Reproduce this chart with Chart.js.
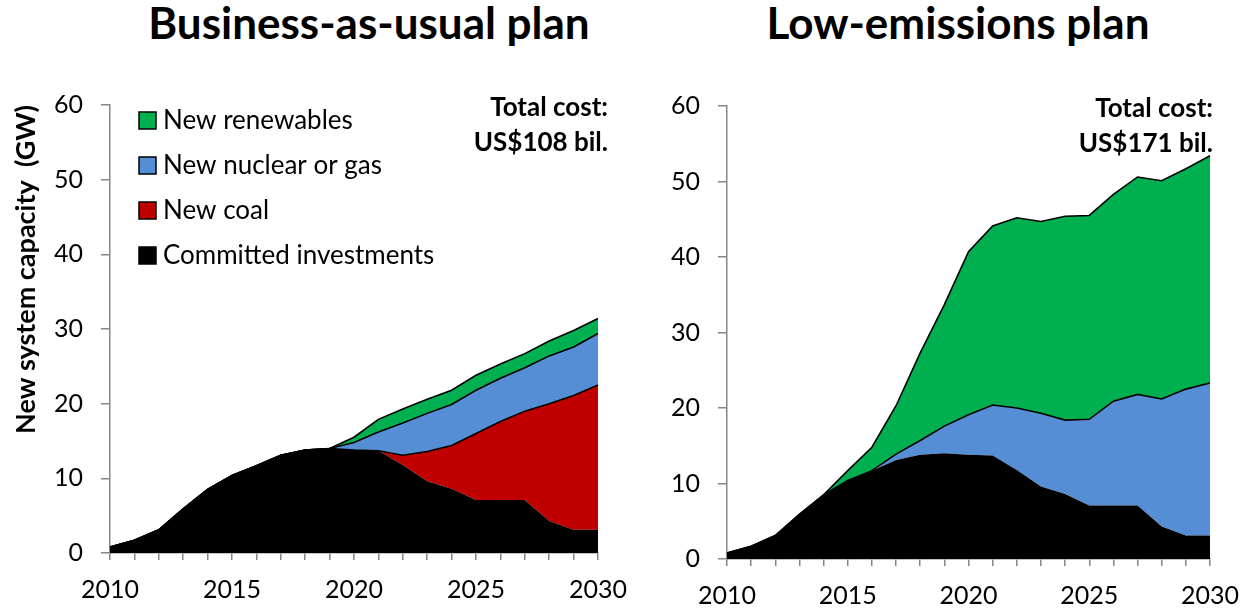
<!DOCTYPE html>
<html>
<head>
<meta charset="utf-8">
<script src="https://cdn.jsdelivr.net/npm/chart.js@4.4.1/dist/chart.umd.min.js"></script>
<style>
  body { margin: 0; width: 1242px; height: 610px; background: #fff; position: relative; overflow: hidden; font-family: Lato, sans-serif; }
  .title { position: absolute; top: 0; font-weight: bold; font-size: 44px; line-height: 44px; color: #000; text-align: center; width: 600px; }
  canvas { position: absolute; top: 0; }
</style>
</head>
<body>
<div class="title" style="left: 69px;">Business-as-usual plan</div>
<div class="title" style="left: 658px;">Low-emissions plan</div>
<canvas id="bau" width="650" height="610" style="left: 0;"></canvas>
<canvas id="low" width="650" height="610" style="left: 621px;"></canvas>
<script>
const years = ["2010","2011","2012","2013","2014","2015","2016","2017","2018","2019","2020",
               "2021","2022","2023","2024","2025","2026","2027","2028","2029","2030"];

// committed investments are the same in both plans
const committed = [0.8, 1.7, 3.1, 5.9, 8.5, 10.4, 11.7, 13.1, 13.8, 14.0, 13.8,
                   13.7, 11.8, 9.6, 8.6, 7.1, 7.1, 7.1, 4.3, 3.1, 3.1];

// business-as-usual plan
const bauCoal = [0, 0, 0, 0, 0, 0, 0, 0, 0, 0, 0,
                 0, 1.3, 4.0, 5.8, 8.9, 10.5, 11.9, 15.7, 18.0, 19.4];
const bauNuclear = [0, 0, 0, 0, 0, 0, 0, 0, 0, 0, 1.0,
                    2.5, 4.3, 5.1, 5.5, 5.8, 5.8, 5.8, 6.4, 6.5, 6.9];
const bauRenew = [0, 0, 0, 0, 0, 0, 0, 0, 0, 0, 0.7,
                  1.7, 1.9, 1.9, 1.9, 2.0, 1.9, 1.9, 2.0, 2.2, 2.0];

// low-emissions plan
const lowNuclear = [0, 0, 0, 0, 0, 0, 0, 0.8, 1.9, 3.6, 5.3,
                    6.7, 8.2, 9.7, 9.8, 11.4, 13.8, 14.7, 16.9, 19.4, 20.2];
const lowRenew = [0, 0, 0, 0, 0, 1.3, 3.1, 6.4, 11.6, 16.1, 21.6,
                  23.7, 25.2, 25.4, 27.0, 27.0, 27.4, 28.8, 28.9, 29.2, 30.1];

const costs = { bau: "US$108 bil.", low: "US$171 bil." };

const GREEN = "#00b050", BLUE = "#558ed5", RED = "#c00000", AXIS = "#868686";
const FONT = "Lato";

function area(label, data, color, fill, edge) {
  return {
    label, data,
    backgroundColor: color,
    borderColor: "#000",
    borderWidth: edge ? 1.6 : 0,
    fill,
    pointRadius: 0,
    tension: 0
  };
}

// legend drawn inside plot area + total cost note
const notes = {
  id: "notes",
  afterDraw(chart, args, opts) {
    const { ctx, chartArea } = chart;
    ctx.save();
    if (opts.legend) {
      const items = chart.data.datasets.slice().reverse();
      ctx.font = `26px ${FONT}`;
      ctx.textBaseline = "alphabetic";
      items.forEach((ds, i) => {
        const x = chartArea.left + 29, y = chartArea.top + 7 + i * 45;
        ctx.fillStyle = ds.backgroundColor;
        ctx.fillRect(x, y, 17, 17);
        ctx.strokeStyle = "#000";
        ctx.lineWidth = 1.5;
        ctx.strokeRect(x, y, 17, 17);
        ctx.fillStyle = "#000";
        ctx.fillText(ds.label, x + 24, y + 17);
      });
    }
    ctx.font = `bold 26px ${FONT}`;
    ctx.textAlign = "right";
    ctx.fillStyle = "#000";
    ctx.fillText("Total cost:", chartArea.right + opts.dx, chartArea.top + 11);
    ctx.fillText(opts.cost, chartArea.right + opts.dx, chartArea.top + 46);
    ctx.restore();
  }
};

function makeChart(id, datasets, box, withTitle, cost) {
  return new Chart(document.getElementById(id), {
    type: "line",
    data: { labels: years, datasets },
    plugins: [notes],
    options: {
      responsive: false,
      animation: false,
      layout: { padding: { top: box.top, right: box.right, left: 0, bottom: 0 } },
      plugins: {
        legend: { display: false },
        tooltip: { enabled: false },
        notes: { legend: withTitle, cost, dx: box.dx }
      },
      scales: {
        x: {
          type: "category",
          afterFit: s => { s.height = box.xh; },
          grid: { drawOnChartArea: false, color: AXIS, tickLength: 7, lineWidth: 1.5 },
          border: { color: AXIS, width: 1.5 },
          ticks: {
            autoSkip: false, maxRotation: 0, padding: 15, color: "#000",
            font: { family: FONT, size: 25 },
            callback: function (v, i) { return i % 5 === 0 ? this.getLabelForValue(v) : ""; }
          }
        },
        y: {
          stacked: true,
          min: 0, max: 60,
          afterFit: s => { s.width = box.yw; },
          grid: { drawOnChartArea: false, color: AXIS, tickLength: 9, lineWidth: 1.5 },
          border: { color: AXIS, width: 1.5 },
          ticks: { stepSize: 10, padding: 18, color: "#000", font: { family: FONT, size: 25 } },
          title: {
            display: withTitle,
            text: "New system capacity  (GW)",
            align: "end",
            color: "#000",
            font: { family: FONT, size: 27, weight: "bold" },
            padding: { top: 10, bottom: 0 }
          }
        }
      }
    }
  });
}

makeChart("bau", [
  area("Committed investments", committed, "#000", "origin", false),
  area("New coal", bauCoal, RED, "-1", true),
  area("New nuclear or gas", bauNuclear, BLUE, "-1", true),
  area("New renewables", bauRenew, GREEN, "-1", true)
], { top: 105, right: 52, xh: 57, yw: 110, dx: 10 }, true, costs.bau);

makeChart("low", [
  area("Committed investments", committed, "#000", "origin", false),
  area("New nuclear or gas", lowNuclear, BLUE, "-1", true),
  area("New renewables", lowRenew, GREEN, "-1", true)
], { top: 106, right: 61, xh: 51, yw: 106, dx: 3 }, false, costs.low);
</script>
</body>
</html>
